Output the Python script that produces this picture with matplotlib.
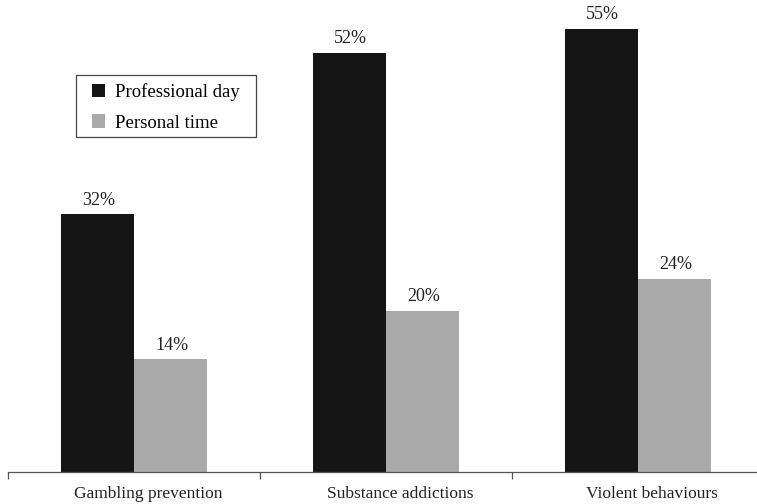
import matplotlib
matplotlib.use("Agg")
import matplotlib.pyplot as plt
import matplotlib.transforms as mtransforms
from matplotlib.patches import Rectangle
import numpy as np

categories = ["Gambling prevention", "Substance addictions", "Violent behaviours"]
professional = [32, 52, 55]
personal = [14, 20, 24]
series_names = ["Professional day", "Personal time"]

plt.rcParams["font.family"] = ["Liberation Serif", "DejaVu Serif"]

W, H = 757, 504
fig = plt.figure(figsize=(W / 100, H / 100), dpi=100)
ax = fig.add_axes([8 / W, 32 / H, 756 / W, 472 / H])

x = np.arange(len(categories))
w = 0.29
b1 = ax.bar(x - w / 2, professional, w, color="#151515", label=series_names[0])
b2 = ax.bar(x + w / 2, personal, w, color="#aaaaaa", label=series_names[1])

for bars, vals in ((b1, professional), (b2, personal)):
    for rect, v in zip(bars, vals):
        ax.annotate(f"{v}%", (rect.get_x() + rect.get_width() / 2, v),
                    xytext=(1, 7), textcoords="offset points",
                    ha="center", va="baseline", fontsize=13, color="#222222")

ax.set_xlim(-0.5, 2.5)
ax.set_ylim(0, 58.6)

for s in ("top", "right", "left"):
    ax.spines[s].set_visible(False)
ax.spines["bottom"].set_color("#555555")
ax.spines["bottom"].set_linewidth(0.9)
ax.set_yticks([])

ax.set_xticks(x)
ax.set_xticklabels(categories, fontsize=12.5, color="#222222")
ax.tick_params(axis="x", which="major", length=0, pad=10)
shift = mtransforms.ScaledTranslation(14 / 100, 0, fig.dpi_scale_trans)
for lab in ax.get_xticklabels():
    lab.set_transform(lab.get_transform() + shift)
ax.set_xticks([-0.5, 0.5, 1.5, 2.5], minor=True)
ax.tick_params(axis="x", which="minor", length=5, width=0.9, color="#555555")

# legend entries without their own frame; a plain box is drawn around them
leg = fig.legend(loc="upper left", bbox_to_anchor=(92 / W, 1 - 83 / H),
                 fontsize=13.5, frameon=False,
                 handlelength=0.7, handleheight=0.7, borderpad=0,
                 labelspacing=0.72, handletextpad=0.55, borderaxespad=0)
fig.patches.append(Rectangle((76 / W, 1 - 137 / H), 180 / W, 62 / H,
                             transform=fig.transFigure, fill=False,
                             edgecolor="#444444", linewidth=0.9))

fig.savefig("out.png", dpi=100)
